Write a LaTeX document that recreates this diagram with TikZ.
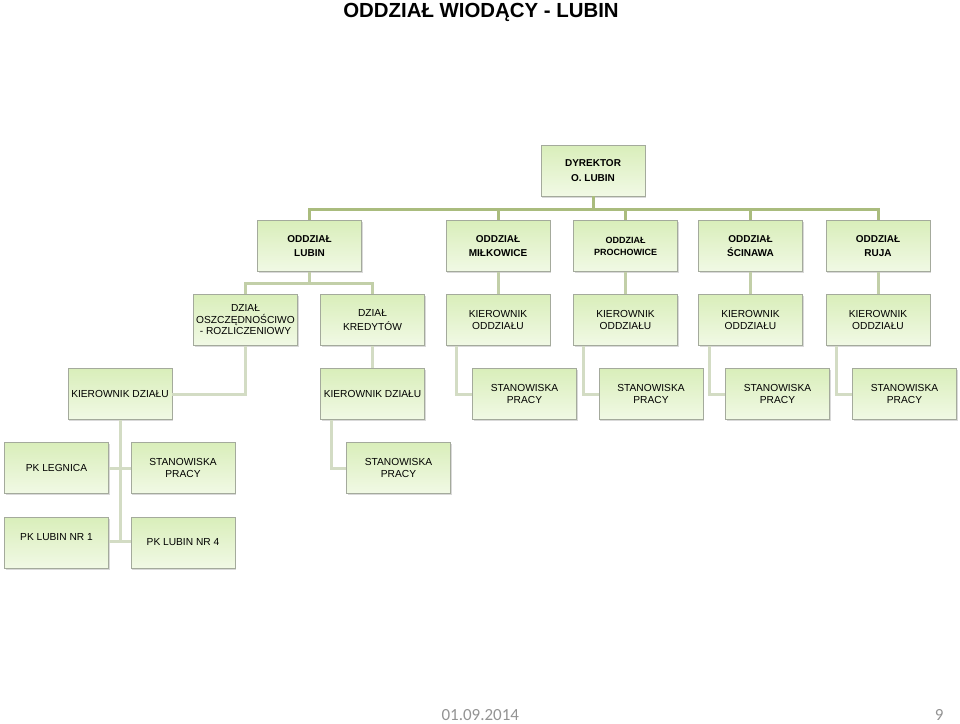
\documentclass[tikz,border=0pt]{standalone}
\usepackage{fontspec}
\setmainfont{Liberation Sans}
\newfontfamily\datefont{Carlito}
\usetikzlibrary{shadows}
\definecolor{boxtop}{HTML}{D9EEBA}
\definecolor{boxbot}{HTML}{F1F9E5}
\definecolor{boxline}{HTML}{A4AA9C}
\definecolor{lineA}{HTML}{AABC7E}
\definecolor{lineB}{HTML}{C2CFA8}
\definecolor{lineC}{HTML}{D3DCC4}
\tikzset{
  orgbox/.style={rectangle, top color=boxtop, bottom color=boxbot, draw=boxline, line width=0.5pt,
    minimum width=104pt, minimum height=51pt, inner sep=1pt, align=center,
    drop shadow={shadow xshift=1.2pt, shadow yshift=-1.6pt, opacity=0.3, fill=gray}},
  boldtxt/.style={font=\fontsize{10}{14}\selectfont\bfseries},
  normtxt/.style={font=\fontsize{10.2}{11.5}\selectfont},
  widetxt/.style={font=\fontsize{10.2}{14}\selectfont},
  connA/.style={draw=lineA, line width=3pt},
  connB/.style={draw=lineB, line width=3pt},
  connC/.style={draw=lineC, line width=3pt},
}
\begin{document}
\begin{tikzpicture}[x=1pt,y=-1pt]
\useasboundingbox (0,0) rectangle (960,723);
% title
\node[font=\fontsize{20.4}{24}\selectfont\bfseries] (title) at (481,12) {ODDZIAŁ WIODĄCY - LUBIN};
\coordinate (busL) at (309.5,209);
\coordinate (busR) at (878,209);
% nodes
\node[orgbox, font=\fontsize{10}{15}\selectfont\bfseries] (dyr) at (593,170.5) {DYREKTOR\\O. LUBIN};
\node[orgbox, boldtxt] (lubin) at (309.5,246) {ODDZIAŁ\\LUBIN};
\node[orgbox, boldtxt] (milk) at (498,246) {ODDZIAŁ\\MIŁKOWICE};
\node[orgbox, font=\fontsize{9}{12}\selectfont\bfseries] (proch) at (625.5,246) {ODDZIAŁ\\PROCHOWICE};
\node[orgbox, boldtxt] (scin) at (750.5,246) {ODDZIAŁ\\ŚCINAWA};
\node[orgbox, boldtxt] (ruja) at (878,246) {ODDZIAŁ\\RUJA};
\node[orgbox, normtxt] (oszcz) at (245.5,320) {DZIAŁ\\OSZCZĘDNOŚCIWO\\- ROZLICZENIOWY};
\node[orgbox, widetxt] (kred) at (372.5,320) {DZIAŁ\\KREDYTÓW};
\node[orgbox, normtxt] (k1) at (498,320) {KIEROWNIK\\ODDZIAŁU};
\node[orgbox, normtxt] (k2) at (625.5,320) {KIEROWNIK\\ODDZIAŁU};
\node[orgbox, normtxt] (k3) at (750.5,320) {KIEROWNIK\\ODDZIAŁU};
\node[orgbox, normtxt] (k4) at (878,320) {KIEROWNIK\\ODDZIAŁU};
\node[orgbox, normtxt] (kd1) at (120,394) {KIEROWNIK DZIAŁU};
\node[orgbox, normtxt] (kd2) at (372.5,394) {KIEROWNIK DZIAŁU};
\node[orgbox, normtxt] (sp1) at (524.5,394) {STANOWISKA\\PRACY};
\node[orgbox, normtxt] (sp2) at (651,394) {STANOWISKA\\PRACY};
\node[orgbox, normtxt] (sp3) at (777.5,394) {STANOWISKA\\PRACY};
\node[orgbox, normtxt] (sp4) at (904.5,394) {STANOWISKA\\PRACY};
\node[orgbox, normtxt] (pkleg) at (56.5,468) {PK LEGNICA};
\node[orgbox, normtxt] (sp5) at (183,468) {STANOWISKA\\PRACY};
\node[orgbox, normtxt] (sp6) at (398.5,468) {STANOWISKA\\PRACY};
\node[orgbox, normtxt, text height=6pt, text depth=10pt] (pkl1) at (56.5,542.5) {PK LUBIN NR 1};
\node[orgbox, normtxt] (pkl4) at (183,542.5) {PK LUBIN NR 4};
% connectors
\draw[connA] (dyr.south) -- (dyr.south |- busL);
\draw[connA] (lubin.north) -- (busL) -- (busR) -- (ruja.north);
\draw[connA] (milk.north) -- (milk.north |- busL);
\draw[connA] (proch.north) -- (proch.north |- busL);
\draw[connA] (scin.north) -- (scin.north |- busL);
\coordinate (lb) at (309.5,283);
\draw[connB] (lubin.south) -- (lb);
\draw[connB] (oszcz.north) |- (lb) -| (kred.north);
\draw[connB] (milk.south) -- (k1.north);
\draw[connB] (proch.south) -- (k2.north);
\draw[connB] (scin.south) -- (k3.north);
\draw[connB] (ruja.south) -- (k4.north);
\draw[connC] (oszcz.south) |- (kd1.east);
\draw[connC] (kred.south) -- (kd2.north);
\draw[connC] ([xshift=11pt]k1.south west) |- (sp1.west);
\draw[connC] ([xshift=10pt]k2.south west) |- (sp2.west);
\draw[connC] ([xshift=11pt]k3.south west) |- (sp3.west);
\draw[connC] ([xshift=11pt]k4.south west) |- (sp4.west);
\coordinate (kdb) at (120,541);
\draw[connC] (kd1.south) -- (kdb);
\draw[connC] (pkleg.east) -- (sp5.west);
\draw[connC] (pkl1.east |- kdb) -- (pkl4.west |- kdb);
\draw[connC] ([xshift=11pt]kd2.south west) |- (sp6.west);
% footer
\node[font=\datefont\fontsize{17}{20}\selectfont, text=gray!85, anchor=base west] (date) at (438,720) {01.09.2014};
\node[font=\datefont\fontsize{17}{20}\selectfont, text=gray!85, anchor=base east] (page) at (947,720) {9};
\end{tikzpicture}
\end{document}
